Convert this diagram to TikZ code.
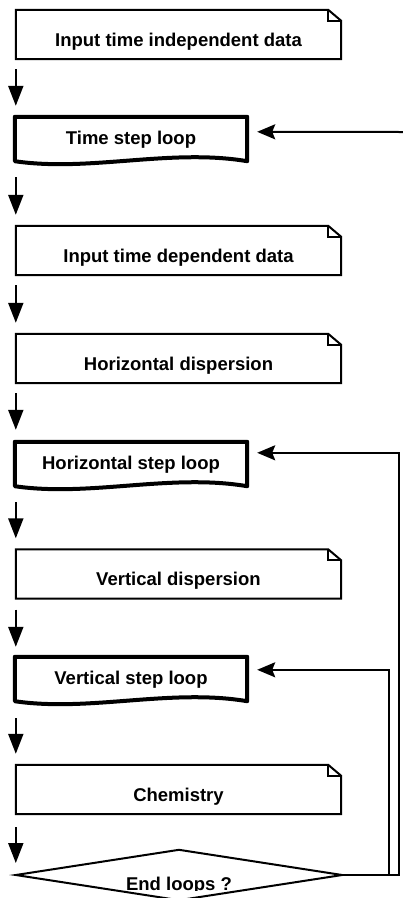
\documentclass[tikz,border=0pt]{standalone}
\usepackage{fontspec}
\setmainfont{Liberation Sans}
\usetikzlibrary{arrows.meta,calc}
\newcommand\mydocshape[1]{%
  \draw[docline] (#1.north west) -- ([xshift=-13pt]#1.north east) -- ([yshift=-11pt]#1.north east) -- (#1.south east) -- (#1.south west) -- cycle;
  \draw[docline] ([xshift=-13pt]#1.north east) |- ([yshift=-11pt]#1.north east);}
\newcommand\myloopshape[1]{%
  \draw[loopline] (#1.south west) -- (#1.north west) -- (#1.north east) -- (#1.south east)
    .. controls ($(#1.south east)+(-77,-13)$) and ($(#1.south west)+(75,11)$) .. (#1.south west) -- cycle;}
\begin{document}
\begin{tikzpicture}[x=1pt,y=-1pt,
  lbl/.style={font=\bfseries\fontsize{18.5pt}{22pt}\selectfont, inner sep=0pt},
  docbox/.style={lbl, minimum width=325pt, minimum height=49pt, text height=26pt, text depth=3pt},
  loopbox/.style={lbl, minimum width=232pt, minimum height=44pt, text height=14pt, text depth=4pt},
  decbox/.style={lbl, minimum width=326pt, minimum height=50pt, text height=32pt, text depth=2pt},
  docline/.style={draw=black, line width=2pt, line join=miter},
  loopline/.style={draw=black, line width=4pt, line join=round},
  conn/.style={draw=black, line width=2pt},
  downarr/.style={conn, -{Triangle[length=20pt,width=15pt]}},
  leftarr/.style={conn, -{Stealth[length=18pt,width=15pt,inset=3pt]}},
]
\useasboundingbox (0,0) rectangle (403,898);
\clip (0,0) rectangle (403,898);

% nodes
\node[docbox]  (d1)  at (178.5,34.5)  {Input time independent data};
\node[loopbox] (ts)  at (131,139)     {Time step loop};
\node[docbox]  (d2)  at (178.5,250.5) {Input time dependent data};
\node[docbox]  (d3)  at (178.5,358.5) {Horizontal dispersion};
\node[loopbox] (hs)  at (131,464)     {Horizontal step loop};
\node[docbox]  (d4)  at (178.5,574)   {Vertical dispersion};
\node[loopbox] (vs)  at (131,679)     {Vertical step loop};
\node[docbox]  (d5)  at (178.5,789.5) {Chemistry};
\begin{scope}
  \clip (0,0) rectangle (403,890.5);
  \node[decbox] (end) at (179,875) {End loops ?};
\end{scope}

% outlines
\mydocshape{d1}
\mydocshape{d2}
\mydocshape{d3}
\mydocshape{d4}
\mydocshape{d5}
\myloopshape{ts}
\myloopshape{hs}
\myloopshape{vs}
\draw[docline] (end.west) -- (end.north) -- (end.east) -- (end.south) -- cycle;

% down arrows
\draw[downarr] ([yshift=-10pt]d1.south west) -- ([xshift=1pt,yshift=11pt]ts.north west);
\draw[downarr] ([xshift=1pt,yshift=-16pt]ts.south west) -- ([yshift=11pt]d2.north west);
\draw[downarr] ([yshift=-10pt]d2.south west) -- ([yshift=11pt]d3.north west);
\draw[downarr] ([yshift=-10pt]d3.south west) -- ([xshift=1pt,yshift=12pt]hs.north west);
\draw[downarr] ([xshift=1pt,yshift=-16pt]hs.south west) -- ([yshift=11pt]d4.north west);
\draw[downarr] ([yshift=-11pt]d4.south west) -- ([xshift=1pt,yshift=10pt]vs.north west);
\draw[downarr] ([xshift=1pt,yshift=-17pt]vs.south west) -- ([yshift=11pt]d5.north west);
\draw[downarr] ([yshift=-13pt]d5.south west) -- ([yshift=12pt]end.west);

% return lines
\coordinate (tin) at (403,132);
\coordinate (xo) at (399,0);
\coordinate (xi) at (389,0);
\draw[leftarr] (tin) -- ([xshift=10pt,yshift=-15pt]ts.north east);
\draw[leftarr] (end.east) -- (end.east -| xo) |- ([xshift=10pt,yshift=-11pt]hs.north east);
\draw[leftarr] (end.east -| xi) |- ([xshift=10pt,yshift=-13pt]vs.north east);
\end{tikzpicture}
\end{document}
